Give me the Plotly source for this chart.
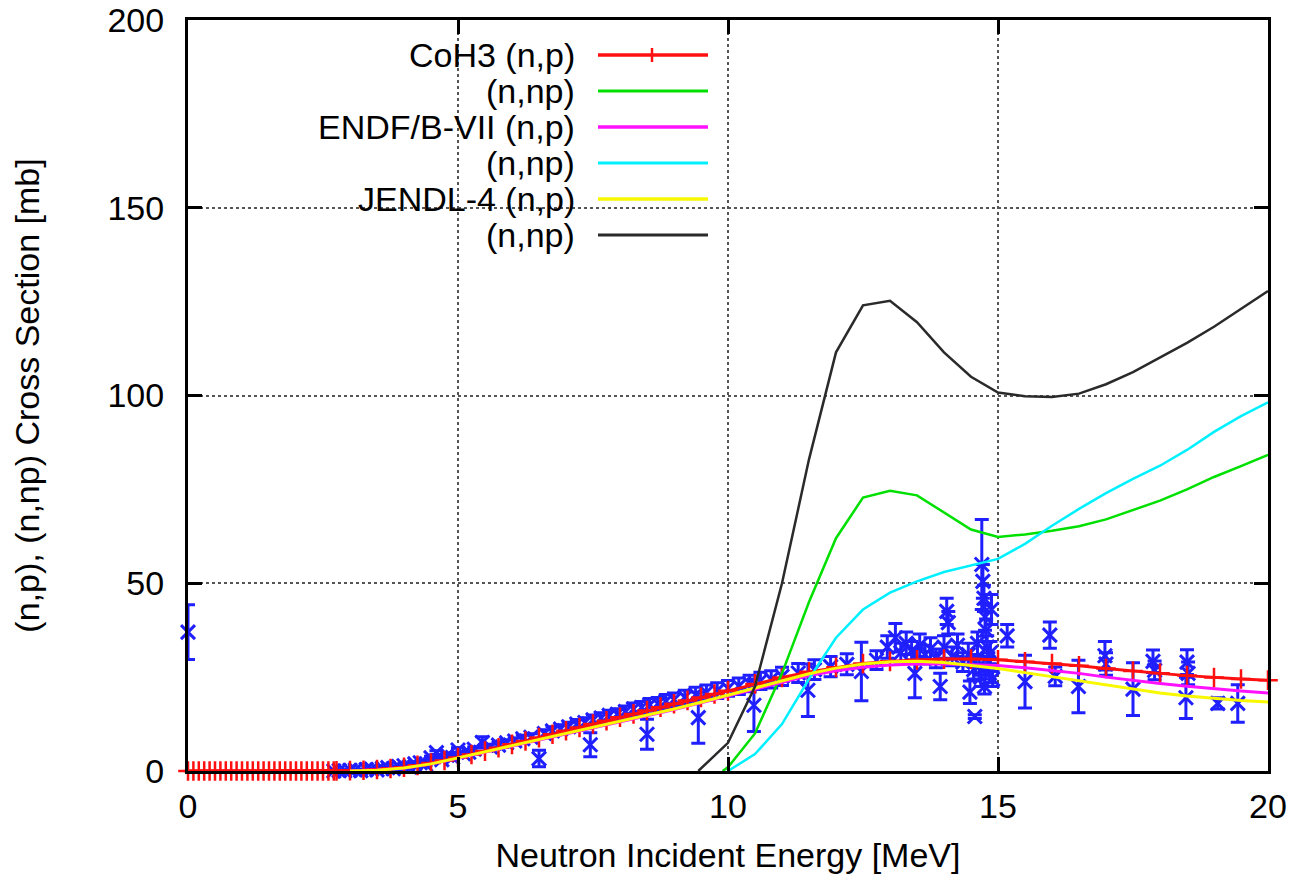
import plotly.graph_objects as go

# ---------------- data ----------------
# CoH3 (n,p)
coh_np_E = [0.0, 0.1, 0.2, 0.3, 0.4, 0.5, 0.6, 0.7, 0.8, 0.9, 1.0, 1.1, 1.2, 1.3,
            1.4, 1.5, 1.6, 1.7, 1.8, 1.9, 2.0, 2.1, 2.2, 2.3, 2.4, 2.5, 2.6, 2.7,
            2.75, 3.0, 3.25, 3.5, 3.75, 4.0, 4.25, 4.5, 4.75, 5.0, 5.25, 5.5, 5.75,
            6.0, 6.25, 6.5, 6.75, 7.0, 7.25, 7.5, 7.75, 8.0, 8.25, 8.5, 8.75, 9.0,
            9.25, 9.5, 9.75, 10.0, 10.5, 11.0, 11.5, 12.0, 12.5, 13.0, 13.5, 14.0,
            14.5, 15.0, 15.5, 16.0, 16.5, 17.0, 17.5, 18.0, 18.5, 19.0, 19.5, 20.0]
coh_np_val = [0, 0, 0, 0, 0, 0, 0, 0, 0, 0, 0, 0, 0, 0,
              0, 0, 0, 0, 0, 0, 0, 0, 0, 0, 0, 0, 0, 0,
              0.02, 0.1, 0.2, 0.4, 0.65, 1.0, 1.5, 2.1, 2.8, 3.6, 4.4, 5.3, 6.2,
              7.1, 8.0, 8.9, 9.8, 10.7, 11.6, 12.5, 13.4, 14.3, 15.2, 16.1, 17.0, 17.9,
              18.8, 19.6, 20.5, 21.4, 23.2, 24.9, 26.4, 27.6, 28.6, 29.2, 29.6, 29.8,
              29.8, 29.6, 29.1, 28.6, 28.0, 27.3, 26.6, 26.0, 25.4, 24.9, 24.5, 24.2]

# CoH3 (n,np)
coh_nnp_E = [9.9, 10.0, 10.5, 11.0, 11.5, 12.0, 12.5, 13.0, 13.5, 14.0, 14.5, 15.0,
             15.5, 16.0, 16.5, 17.0, 17.5, 18.0, 18.5, 19.0, 19.5, 20.0]
coh_nnp_val = [0.0, 1.0, 10.0, 26.0, 45.0, 62.0, 72.8, 74.6, 73.4, 68.8, 64.3, 62.3,
               63.0, 64.0, 65.2, 67.0, 69.5, 72.0, 75.0, 78.3, 81.2, 84.2]

# ENDF/B-VII (n,p)
endf_np_E = [3.0, 3.5, 4.0, 4.5, 5.0, 5.5, 6.0, 6.5, 7.0, 7.5, 8.0, 8.5, 9.0, 9.5,
             10.0, 10.5, 11.0, 11.5, 12.0, 12.5, 13.0, 13.5, 14.0, 14.5, 15.0, 15.5,
             16.0, 16.5, 17.0, 17.5, 18.0, 18.5, 19.0, 19.5, 20.0]
endf_np_val = [0.05, 0.25, 0.8, 1.9, 3.4, 5.0, 6.6, 8.2, 9.8, 11.4, 13.0, 14.7, 16.4, 18.2,
               20.0, 21.9, 23.8, 25.4, 26.7, 27.6, 28.2, 28.5, 28.5, 28.4, 28.1, 27.5,
               26.8, 26.0, 25.0, 24.1, 23.3, 22.6, 21.9, 21.3, 20.8]

# ENDF/B-VII (n,np)
endf_nnp_E = [10.0, 10.5, 11.0, 11.5, 12.0, 12.5, 13.0, 13.5, 14.0, 14.5, 15.0, 15.5,
              16.0, 16.5, 17.0, 17.5, 18.0, 18.5, 19.0, 19.5, 20.0]
endf_nnp_val = [0.0, 4.5, 12.5, 24.5, 35.5, 43.0, 47.5, 50.5, 53.0, 54.8, 56.5, 60.5,
                65.3, 69.8, 74.0, 77.8, 81.3, 85.5, 90.3, 94.5, 98.2]

# JENDL-4 (n,p)
jendl_np_E = [3.0, 3.5, 4.0, 4.5, 5.0, 5.5, 6.0, 6.5, 7.0, 7.5, 8.0, 8.5, 9.0, 9.5,
              10.0, 10.5, 11.0, 11.5, 12.0, 12.5, 13.0, 13.5, 14.0, 14.5, 15.0, 15.5,
              16.0, 16.5, 17.0, 17.5, 18.0, 18.5, 19.0, 19.5, 20.0]
jendl_np_val = [0.0, 0.2, 0.8, 1.9, 3.5, 5.1, 6.7, 8.3, 9.9, 11.5, 13.1, 14.8, 16.5, 18.3,
                20.2, 22.1, 24.1, 25.9, 27.4, 28.5, 29.1, 29.2, 28.9, 28.2, 27.3, 26.2,
                25.1, 24.0, 22.9, 21.8, 20.8, 20.0, 19.3, 18.8, 18.4]

# JENDL-4 (n,np)
jendl_nnp_E = [9.45, 10.0, 10.5, 11.0, 11.5, 12.0, 12.5, 13.0, 13.5, 14.0, 14.5, 15.0,
               15.5, 16.0, 16.5, 17.0, 17.5, 18.0, 18.5, 19.0, 19.5, 20.0]
jendl_nnp_val = [0.0, 7.5, 22.5, 50.0, 83.0, 111.5, 124.0, 125.2, 119.5, 111.5, 105.0, 100.8,
                 99.8, 99.6, 100.5, 103.0, 106.2, 110.0, 114.0, 118.3, 123.0, 127.8]

# Experimental data (EXFOR) - dense set
expA_E = [2.70, 2.80, 2.90, 3.00, 3.10, 3.20, 3.30, 3.40, 3.50, 3.60, 3.70, 3.80, 3.90,
          4.00, 4.10, 4.20, 4.30, 4.40, 4.50, 4.60, 4.70, 4.80, 4.90, 5.00, 5.10, 5.20,
          5.30, 5.45, 5.60, 5.75, 5.90, 6.05, 6.20, 6.35, 6.60, 6.75, 6.90, 7.05, 7.20,
          7.35, 7.50, 7.65, 7.80, 7.95, 8.10, 8.25, 8.40, 8.55, 8.70, 8.85, 9.00, 9.20,
          9.40, 9.60, 9.80, 10.00, 10.20, 10.40, 10.60, 10.80, 11.00, 11.30, 11.60,
          11.90, 12.20]
expA_val = [0.0, 0.1, 0.0, 0.2, 0.3, 0.1, 0.4, 0.5, 0.3, 0.7, 0.9, 0.6, 1.2,
            1.4, 1.1, 1.9, 2.2, 1.8, 3.5, 4.9, 3.0, 4.2, 3.6, 5.6, 4.6, 5.0,
            5.8, 7.6, 6.4, 6.9, 7.5, 8.0, 8.6, 9.0, 10.0, 10.7, 11.2, 11.8, 12.5,
            12.9, 13.6, 14.1, 14.8, 15.1, 15.8, 16.5, 16.9, 17.6, 17.9, 18.6, 19.0, 19.6,
            20.3, 20.9, 21.4, 22.0, 22.6, 23.3, 24.0, 24.4, 25.2, 26.1, 27.0,
            27.8, 28.4]
expA_err = [0.1, 0.1, 0.1, 0.1, 0.1, 0.1, 0.1, 0.1, 0.1, 0.1, 0.1, 0.1, 0.2,
            0.2, 0.2, 0.2, 0.3, 0.3, 0.4, 0.5, 0.4, 0.5, 0.4, 0.6, 0.5, 0.5,
            0.6, 1.5, 0.7, 0.7, 0.8, 0.8, 0.9, 0.9, 1.0, 1.1, 1.1, 1.2, 1.2,
            1.3, 1.3, 1.4, 1.4, 1.5, 1.5, 1.6, 1.6, 1.7, 1.7, 1.8, 1.8, 1.9,
            2.0, 2.0, 2.1, 2.1, 2.2, 2.2, 2.3, 2.3, 2.4, 2.5, 2.6, 2.7, 2.8]

# Experimental data (EXFOR) - scattered set
expB_E = [0.0, 6.50, 7.45, 8.50, 9.45, 10.48, 11.48, 12.47, 12.75, 12.95, 13.10, 13.20,
          13.30, 13.40, 13.46, 13.55, 13.65, 13.75, 13.85, 13.93, 14.00, 14.05, 14.08,
          14.15, 14.25, 14.35, 14.45, 14.48, 14.55, 14.57, 14.62, 14.65, 14.68, 14.70,
          14.72, 14.74, 14.75, 14.76, 14.78, 14.80, 14.82, 14.84, 14.86, 14.88, 14.90,
          15.17, 15.50, 15.96, 16.06, 16.49, 16.98, 17.00, 17.50, 17.87, 17.90, 18.48,
          18.50, 18.52, 19.07, 19.44]
expB_val = [37.0, 3.3, 7.0, 9.8, 14.2, 17.5, 21.5, 26.5, 29.5, 33.0, 35.5, 31.5,
            34.0, 32.0, 26.0, 33.5, 31.0, 32.5, 30.0, 22.5, 33.0, 42.5, 39.5,
            30.5, 33.5, 29.0, 31.0, 21.0, 27.0, 14.5, 34.0, 28.0, 25.0, 55.0,
            50.5, 46.0, 22.5, 41.0, 37.5, 33.0, 29.0, 26.0, 31.5, 43.0, 24.5,
            36.0, 23.8, 36.2, 25.2, 22.5, 30.7, 28.5, 21.8, 29.2, 26.8, 19.5,
            29.0, 26.0, 18.0, 18.0]
expB_err = [7.3, 2.2, 3.2, 4.0, 6.8, 7.0, 7.0, 7.8, 2.5, 3.0, 3.8, 2.5,
            3.0, 2.5, 6.5, 3.0, 2.5, 3.0, 2.5, 3.5, 3.0, 3.5, 3.0,
            2.5, 3.0, 2.5, 3.0, 3.0, 2.5, 0.5, 3.0, 2.5, 2.5, 12.0,
            4.5, 3.5, 2.0, 3.5, 3.0, 3.0, 2.5, 2.5, 3.0, 4.0, 2.0,
            3.0, 7.0, 3.5, 2.5, 7.0, 3.8, 3.0, 7.0, 3.0, 2.5, 5.5,
            3.3, 3.0, 1.5, 5.0]

legend_labels = ["CoH3 (n,p)", "(n,np)", "ENDF/B-VII (n,p)", "(n,np)", "JENDL-4 (n,p)", "(n,np)"]

# ---------------- styles ----------------
FONT = "Liberation Sans, Arial, Helvetica, sans-serif"
BLUE = "#1f1fff"
RED = "#ff1010"
GREEN = "#00e000"
MAGENTA = "#ff10ff"
CYAN = "#00f0ff"
YELLOW = "#f8f800"
BLACK = "#2a2a2a"
FS = 34

W, H = 1296, 884
L, R, T, B = 188, 28, 20, 113
PW, PH = W - L - R, H - T - B


def px2paper_x(px):
    return (px - L) / PW


def px2paper_y(py):
    return (H - B - py) / PH


fig = go.Figure()

for ex, ey, ee in [(expA_E, expA_val, expA_err), (expB_E, expB_val, expB_err)]:
    fig.add_trace(go.Scatter(
        x=ex, y=ey, mode="markers", showlegend=False, cliponaxis=False,
        marker=dict(symbol="x-thin", size=14, color=BLUE, line=dict(width=3, color=BLUE)),
        error_y=dict(type="data", array=ee, visible=True, color=BLUE, thickness=3, width=7),
    ))

curves = [
    (coh_np_E, coh_np_val, RED, 3, True),
    (coh_nnp_E, coh_nnp_val, GREEN, 2.5, False),
    (endf_np_E, endf_np_val, MAGENTA, 3, False),
    (endf_nnp_E, endf_nnp_val, CYAN, 2.5, False),
    (jendl_np_E, jendl_np_val, YELLOW, 3, False),
    (jendl_nnp_E, jendl_nnp_val, BLACK, 2.5, False),
]
for (cx, cy, col, w, mk), name in zip(curves, legend_labels):
    fig.add_trace(go.Scatter(
        x=cx, y=cy, name=name, showlegend=False, cliponaxis=False,
        mode="lines+markers" if mk else "lines",
        line=dict(color=col, width=w),
        marker=dict(symbol="cross-thin", size=14, color=col, line=dict(width=2.5, color=col)) if mk else None,
    ))

# ---------------- custom key (gnuplot style) ----------------
shapes = [dict(type="rect", xref="paper", yref="paper", layer="between",
               x0=px2paper_x(190), x1=px2paper_x(726), y0=px2paper_y(258), y1=px2paper_y(22),
               fillcolor="white", line=dict(width=0))]
annotations = []
row_py = [55, 91, 127, 163, 199, 235]
for (cx, cy, col, w, mk), name, py in zip(curves, legend_labels, row_py):
    annotations.append(dict(xref="paper", yref="paper", x=px2paper_x(577), y=px2paper_y(py),
                            xanchor="right", yanchor="middle", showarrow=False, text=name,
                            font=dict(family=FONT, size=FS, color="black")))
    shapes.append(dict(type="line", xref="paper", yref="paper", layer="above",
                       x0=px2paper_x(598), x1=px2paper_x(708), y0=px2paper_y(py), y1=px2paper_y(py),
                       line=dict(color=col, width=w + 0.5)))
    if mk:
        shapes.append(dict(type="line", xref="paper", yref="paper", layer="above",
                           x0=px2paper_x(652), x1=px2paper_x(652), y0=px2paper_y(py - 7), y1=px2paper_y(py + 7),
                           line=dict(color=col, width=2.5)))

axis_common = dict(
    showline=True, linecolor="black", linewidth=3, mirror="ticks",
    ticks="inside", ticklen=14, tickwidth=3, tickcolor="black",
    showgrid=True, gridcolor="#555555", gridwidth=1.5, griddash="dot",
    zeroline=False, automargin=False,
    tickfont=dict(family=FONT, size=FS, color="black"),
)

fig.update_layout(
    width=W, height=H, autosize=False,
    margin=dict(l=L, r=R, t=T, b=B),
    paper_bgcolor="white", plot_bgcolor="white",
    font=dict(family=FONT, size=FS, color="black"),
    showlegend=False,
    shapes=shapes, annotations=annotations,
    xaxis=dict(range=[0, 20], tickvals=[0, 5, 10, 15, 20], ticklabelstandoff=3,
               title=dict(text="Neutron Incident Energy [MeV]", font=dict(family=FONT, size=FS), standoff=20),
               **axis_common),
    yaxis=dict(range=[0, 200], tickvals=[0, 50, 100, 150, 200], ticklabelstandoff=14,
               title=dict(text="(n,p), (n,np) Cross Section [mb]", font=dict(family=FONT, size=FS), standoff=58),
               **axis_common),
)

fig.write_html("out.html")
